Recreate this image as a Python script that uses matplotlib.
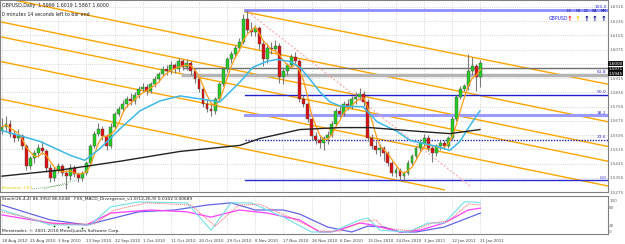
import numpy as np
import pandas as pd
import matplotlib
matplotlib.use('Agg')
import matplotlib.pyplot as plt

# daily GBPUSD bars, 18 Aug 2010 .. 21 Jan 2011
opens = [1.5620, 1.5642, 1.5659, 1.5603, 1.5576, 1.5587, 1.5531, 1.5420, 1.5464, 1.5492,
         1.5520, 1.5503, 1.5409, 1.5353, 1.5398, 1.5420, 1.5381, 1.5364, 1.5409, 1.5375,
         1.5353, 1.5381, 1.5437, 1.5531, 1.5603, 1.5631, 1.5587, 1.5531, 1.5642, 1.5715,
         1.5742, 1.5770, 1.5798, 1.5787, 1.5820, 1.5854, 1.5865, 1.5842, 1.5881, 1.5909,
         1.5937, 1.5965, 1.5954, 1.5987, 1.5965, 1.6009, 1.5976, 1.5998, 1.5954, 1.5909,
         1.5854, 1.5770, 1.5742, 1.5731, 1.5798, 1.5881, 1.5965, 1.6020, 1.6048, 1.6087,
         1.6120, 1.6250, 1.6187, 1.6176, 1.6198, 1.6104, 1.6020, 1.6087, 1.6076, 1.6098,
         1.5920, 1.5954, 1.5987, 1.6032, 1.6009, 1.5798, 1.5770, 1.5687, 1.5587, 1.5565,
         1.5548, 1.5576, 1.5598, 1.5659, 1.5731, 1.5715, 1.5770, 1.5754, 1.5798, 1.5809,
         1.5826, 1.5781, 1.5576, 1.5531, 1.5509, 1.5520, 1.5492, 1.5437, 1.5381, 1.5398,
         1.5364, 1.5381, 1.5437, 1.5476, 1.5520, 1.5548, 1.5576, 1.5520, 1.5492, 1.5531,
         1.5548, 1.5531, 1.5576, 1.5687, 1.5809, 1.5854, 1.5870, 1.5954, 1.5982, 1.5920]
highs = [1.5690, 1.5700, 1.5680, 1.5625, 1.5630, 1.5600, 1.5545, 1.5480, 1.5510, 1.5545,
         1.5560, 1.5515, 1.5430, 1.5415, 1.5440, 1.5435, 1.5400, 1.5430, 1.5425, 1.5390,
         1.5395, 1.5450, 1.5545, 1.5620, 1.5660, 1.5645, 1.5600, 1.5660, 1.5725, 1.5760,
         1.5790, 1.5815, 1.5830, 1.5835, 1.5870, 1.5890, 1.5880, 1.5895, 1.5925, 1.5950,
         1.5985, 1.5990, 1.6010, 1.6000, 1.6030, 1.6025, 1.6020, 1.6010, 1.5970, 1.5925,
         1.5870, 1.5800, 1.5770, 1.5810, 1.5895, 1.5980, 1.6035, 1.6065, 1.6100, 1.6140,
         1.6275, 1.6298, 1.6230, 1.6215, 1.6210, 1.6130, 1.6110, 1.6120, 1.6130, 1.6110,
         1.5975, 1.6000, 1.6050, 1.6060, 1.6025, 1.5820, 1.5790, 1.5700, 1.5610, 1.5590,
         1.5590, 1.5620, 1.5675, 1.5745, 1.5760, 1.5785, 1.5795, 1.5815, 1.5835, 1.5860,
         1.5845, 1.5795, 1.5600, 1.5560, 1.5545, 1.5535, 1.5505, 1.5450, 1.5415, 1.5410,
         1.5395, 1.5455, 1.5490, 1.5535, 1.5575, 1.5600, 1.5595, 1.5540, 1.5545, 1.5570,
         1.5565, 1.5590, 1.5700, 1.5820, 1.5870, 1.5880, 1.6048, 1.6032, 1.5995, 1.6019]
lows = [1.5600, 1.5620, 1.5585, 1.5555, 1.5560, 1.5515, 1.5400, 1.5405, 1.5440, 1.5470,
        1.5490, 1.5390, 1.5330, 1.5335, 1.5380, 1.5365, 1.5290, 1.5345, 1.5360, 1.5330,
        1.5335, 1.5370, 1.5425, 1.5520, 1.5590, 1.5570, 1.5510, 1.5520, 1.5630, 1.5700,
        1.5725, 1.5750, 1.5765, 1.5770, 1.5805, 1.5835, 1.5820, 1.5830, 1.5865, 1.5895,
        1.5925, 1.5935, 1.5940, 1.5945, 1.5950, 1.5960, 1.5960, 1.5935, 1.5890, 1.5835,
        1.5750, 1.5725, 1.5700, 1.5715, 1.5785, 1.5870, 1.5950, 1.6000, 1.6030, 1.6070,
        1.6105, 1.6170, 1.6150, 1.6150, 1.6080, 1.5985, 1.6000, 1.6050, 1.6060, 1.5890,
        1.5880, 1.5935, 1.5970, 1.5990, 1.5780, 1.5750, 1.5670, 1.5570, 1.5545, 1.5520,
        1.5510, 1.5545, 1.5585, 1.5645, 1.5695, 1.5700, 1.5735, 1.5740, 1.5770, 1.5790,
        1.5760, 1.5560, 1.5515, 1.5490, 1.5480, 1.5450, 1.5420, 1.5365, 1.5360, 1.5345,
        1.5340, 1.5370, 1.5425, 1.5460, 1.5505, 1.5530, 1.5505, 1.5445, 1.5475, 1.5510,
        1.5515, 1.5520, 1.5565, 1.5675, 1.5795, 1.5840, 1.5850, 1.5930, 1.5843, 1.5867]
closes = [1.5642, 1.5659, 1.5603, 1.5576, 1.5587, 1.5531, 1.5420, 1.5464, 1.5492, 1.5520,
          1.5503, 1.5409, 1.5353, 1.5398, 1.5420, 1.5381, 1.5364, 1.5409, 1.5375, 1.5353,
          1.5381, 1.5437, 1.5531, 1.5603, 1.5631, 1.5587, 1.5531, 1.5642, 1.5715, 1.5742,
          1.5770, 1.5798, 1.5787, 1.5820, 1.5854, 1.5865, 1.5842, 1.5881, 1.5909, 1.5937,
          1.5965, 1.5954, 1.5987, 1.5965, 1.6009, 1.5976, 1.5998, 1.5954, 1.5909, 1.5854,
          1.5770, 1.5742, 1.5731, 1.5798, 1.5881, 1.5965, 1.6020, 1.6048, 1.6087, 1.6120,
          1.6250, 1.6187, 1.6176, 1.6198, 1.6104, 1.6020, 1.6087, 1.6076, 1.6098, 1.5920,
          1.5954, 1.5987, 1.6032, 1.6009, 1.5798, 1.5770, 1.5687, 1.5587, 1.5565, 1.5548,
          1.5576, 1.5598, 1.5659, 1.5731, 1.5715, 1.5770, 1.5754, 1.5798, 1.5809, 1.5826,
          1.5781, 1.5576, 1.5531, 1.5509, 1.5520, 1.5492, 1.5437, 1.5381, 1.5398, 1.5364,
          1.5381, 1.5437, 1.5476, 1.5520, 1.5548, 1.5576, 1.5520, 1.5492, 1.5531, 1.5548,
          1.5531, 1.5576, 1.5687, 1.5809, 1.5854, 1.5870, 1.5954, 1.5982, 1.5920, 1.6000]

date_labels = ['18 Aug 2010', '25 Aug 2010', '3 Sep 2010', '13 Sep 2010', '22 Sep 2010',
               '1 Oct 2010', '11 Oct 2010', '20 Oct 2010', '29 Oct 2010', '8 Nov 2010',
               '17 Nov 2010', '26 Nov 2010', '6 Dec 2010', '15 Dec 2010', '24 Dec 2010',
               '3 Jan 2011', '12 Jan 2011', '21 Jan 2011']
label_step = 7

price_ticks = [1.5275, 1.5355, 1.5435, 1.5515, 1.5595, 1.5675, 1.5755,
               1.5835, 1.5915, 1.5995, 1.6075, 1.6155, 1.6235, 1.6315]

# moving averages (bar, price)
ma_blue_x = [0, 9.5, 17, 20.6, 24.4, 29.4, 34.3, 39.3, 44.3, 49.3, 54.2, 59.2, 62.4, 65.9,
             68.4, 71.6, 74.1, 76.6, 79.1, 81.6, 84.1, 89.8, 93.3, 98.3, 101.5, 108.2,
             111.4, 113.9, 116.4, 118.9]
ma_blue_y = [1.5620, 1.5559, 1.5481, 1.5453, 1.5520, 1.5631, 1.5731, 1.5787, 1.5815, 1.5798,
             1.5781, 1.5893, 1.5976, 1.6009, 1.6020, 1.6009, 1.5976, 1.5909, 1.5837, 1.5781,
             1.5759, 1.5754, 1.5670, 1.5615, 1.5565, 1.5531, 1.5509, 1.5559, 1.5648, 1.5731]
ma_black_x = [0, 14.4, 29.4, 44.3, 59.2, 64.2, 74.1, 84.1, 91.5, 104, 111.4, 118.9]
ma_black_y = [1.5364, 1.5398, 1.5448, 1.5503, 1.5537, 1.5576, 1.5626, 1.5637, 1.5637,
              1.5615, 1.5603, 1.5626]

# fibonacci retracement
fib_start = 60.4
fib_low = 1.5340
fib_high = 1.6298
fib_levels = [0.0, 23.6, 38.2, 50.0, 61.8, 100.0]

# horizontal grey levels
grey_start = 45
grey_levels = [1.5970, 1.5932]

# orange channel lines: (bar0, price0, bar1, price1)
channel_lines = [
    (60.4, 1.6287, 150.7, 1.5881),
    (-0.5, 1.6370, 150.7, 1.5670),
    (-0.5, 1.6232, 150.7, 1.5531),
    (-0.5, 1.6148, 150.7, 1.5448),
    (-0.5, 1.6009, 150.7, 1.5309),
    (-0.5, 1.5798, 110.0, 1.5287),
]
trend_line = (61.2, 1.6287, 116.4, 1.5309)

# oscillator window
stoch_x = [0, 12, 22, 27, 34, 46, 52, 57, 62, 70, 77, 82, 89, 91, 94, 101, 106, 110, 115, 117, 119]
stoch_main = [71, 23, 23, 81, 97, 94, 6, 94, 94, 48, 0, 0, 39, 45, 6, 0, 29, 29, 97, 97, 94]
signal_x = [0, 13, 23, 28, 36, 47, 53, 59, 64, 72, 79, 84, 90, 93, 95, 102, 107, 111, 116, 119]
stoch_signal = [65, 26, 26, 71, 94, 87, 19, 87, 90, 45, 3, 3, 35, 39, 13, 3, 29, 35, 90, 87]
macd_x = [0, 12, 21, 27, 37, 46, 52, 59, 66, 74, 79, 82, 89, 92, 99, 104, 110, 116, 119]
macd_main = [55, 29, 23, 61, 71, 65, 48, 71, 61, 39, 0, 0, 29, 23, 0, 6, 29, 71, 77]
macd_sig_x = [0, 12, 21, 34, 43, 51, 57, 63, 70, 74, 81, 87, 91, 95, 99, 103, 110, 119]
macd_signal = [87, 39, 23, 65, 71, 87, 94, 71, 71, 58, 16, 0, 19, 16, 0, 0, 16, 61]

x0, x1 = -0.4975, 150.75
y0, y1 = 1.52865, 1.6354

fig = plt.figure(figsize=(6.25, 2.44), dpi=100)
ax = fig.add_axes([0, 0.2131, 0.9728, 0.7869])
ax2 = fig.add_axes([0, 0.041, 0.9728, 0.1557])

grid_x = np.arange(0, len(closes), label_step)
for a in (ax, ax2):
    a.set_xlim(x0, x1)
    a.set_xticks(grid_x)
    a.tick_params(length=0, labelbottom=False, labelleft=False)
    a.grid(True, linestyle=(0, (1, 2)), color='#b8b8b8', linewidth=0.5)
    for s in a.spines.values():
        s.set_color('#808080')
        s.set_linewidth(0.8)
    a.set_axisbelow(True)

ax.set_ylim(y0, y1)
ax.set_yticks(price_ticks)
ax.yaxis.tick_right()
ax.tick_params(axis='y', labelright=True, labelsize=3.0, pad=0.8, colors='#606060')
ax.set_yticklabels(['%.4f' % p for p in price_ticks])

# channel lines
for b0, p0, b1, p1 in channel_lines:
    ax.plot([b0, b1], [p0, p1], color='#ffa500', lw=1.0, zorder=2)

# fibonacci levels
fib_styles = {0.0: ('#2a2ad0', 1.0, '-'), 23.6: ('#2020b0', 1.0, (0, (1, 1))),
              38.2: ('#9a9aff', 2.2, '-'), 50.0: ('#2020c8', 1.0, '-'),
              61.8: ('#3a3ae0', 1.0, '-'), 100.0: ('#8c8cff', 2.0, '-')}
for lev in fib_levels:
    p = fib_low + (fib_high - fib_low) * lev / 100
    c, lw, ls = fib_styles[lev]
    ax.plot([fib_start, x1], [p, p], color=c, lw=lw, ls=ls, zorder=2)
    ax.text(x1 - 0.3, p + 0.0004, '%.1f' % lev, fontsize=3.2, color='#3030d0',
            ha='right', va='bottom')

ax.plot([grey_start, x1], [grey_levels[0]] * 2, color='#707070', lw=1.0, zorder=2)
ax.plot([grey_start, x1], [grey_levels[1]] * 2, color='#b4b4b4', lw=2.5, zorder=2)

tb0, tp0, tb1, tp1 = trend_line
ax.plot([tb0, tb1], [tp0, tp1], color='#ff9a9a', lw=0.7, ls=(0, (2, 2)), zorder=2)

# green dotted support lines
ax.plot([10.5, 20.2], [1.5292, 1.5353], color='#50a050', lw=0.6, ls=(0, (1, 1.5)))
ax.plot([7.5, 16.4], [1.5292, 1.5318], color='#50a050', lw=0.6, ls=(0, (1, 1.5)))

# candles
idx = np.arange(len(closes))
o = np.array(opens); h = np.array(highs); l = np.array(lows); c = np.array(closes)
ax.vlines(idx, l, h, color='#7a7a7a', lw=0.8, zorder=3)
up = c >= o
body = np.where(np.abs(c - o) < 0.0003, 0.0003, c - o)
ax.bar(idx[up], body[up], bottom=o[up], width=0.72, color='#22cc22',
       edgecolor='#4a4a4a', linewidth=0.3, zorder=4)
ax.bar(idx[~up], body[~up], bottom=o[~up], width=0.72, color='#dd1111',
       edgecolor='#4a4a4a', linewidth=0.3, zorder=4)

# moving averages
ma_fast = pd.Series(closes).rolling(4, min_periods=1).mean()
ax.plot(idx, ma_fast, color='#ff9c1a', lw=0.9, zorder=5)
ax.plot(ma_blue_x, ma_blue_y, color='#3cb8e8', lw=1.1, zorder=5)
ax.plot(ma_black_x, ma_black_y, color='#222222', lw=1.0, zorder=5)

# header texts
ax.text(0.004, 0.985, 'GBPUSD,Daily  1.5999 1.6019 1.5867 1.6000', transform=ax.transAxes,
        fontsize=3.4, va='top', color='#202020')
ax.text(0.004, 0.94, '0 minutes 14 seconds left to bar end', transform=ax.transAxes,
        fontsize=3.4, va='top', color='#202020')
ax.text(0.004, 0.012, 'Breakout: 1.63', transform=ax.transAxes, fontsize=3.0,
        color='#e0d000', va='bottom')

# timeframe arrows
ax.text(136.0, 1.6250, 'GBPUSD', fontsize=3.3, color='#2020ff', va='center')
tf_names = ['H1', 'H4', 'D1', 'W1', 'MN']
tf_colors = ['#ff2020', '#ffcc00', '#000080', '#000080', '#000080']
for k, (n, col) in enumerate(zip(tf_names, tf_colors)):
    bx = 141.2 + k * 2.1
    ax.text(bx, 1.6292, n, fontsize=2.6, color='#000080', ha='center', va='center')
    ax.text(bx, 1.6250, '\u2191', fontsize=5, color=col, ha='center', va='center',
            fontweight='bold')

# price boxes on the axis
for p, txt in [(1.6000, '1.6000'), (1.5970, '1.5971'), (1.5945, '1.5945')]:
    ax.text(1.001, (p - y0) / (y1 - y0), txt, transform=ax.transAxes,
            fontsize=3.0, color='white', va='center', ha='left',
            bbox=dict(boxstyle='square,pad=0.12', fc='#101010', ec='none'), clip_on=False)

# oscillator
ax2.set_ylim(-6.45, 116.1)
ax2.set_yticks([0, 20, 80, 100])
ax2.yaxis.tick_right()
ax2.tick_params(axis='y', labelright=True, labelsize=3.0, pad=0.8, colors='#606060')
ax2.yaxis.grid(False)
ax2.plot(macd_sig_x, macd_signal, color='#6464e6', lw=0.9)
ax2.plot(macd_x, macd_main, color='#ff40ff', lw=0.9)
ax2.plot(stoch_x, stoch_main, color='#70e0e8', lw=0.8)
ax2.plot(signal_x, stoch_signal, color='#ff6060', lw=0.7, ls=(0, (1, 1)))
ax2.scatter([13, 16.4, 20], [20, 16, 14], marker='+', s=4, color='#106010', lw=0.6)
ax2.text(0.004, 0.97, 'Stoch(26,4,4) 86.3950 86.6048   FX5_MACD_Divergence_v1.0(12,26,9) 0.0102 0.00689',
         transform=ax2.transAxes, fontsize=3.2, va='top', color='#202020')
ax2.text(0.004, 0.03, 'Metatrader, \u00a9 2001-2010 MetaQuotes Software Corp.',
         transform=ax2.transAxes, fontsize=3.2, va='bottom', color='#202020')

# date labels
for k, lab in enumerate(date_labels):
    ax2.text(grid_x[k], -0.12, lab, transform=ax2.get_xaxis_transform(), fontsize=2.9,
             va='top', ha='left', color='#404040')

fig.savefig('out.png', dpi=100, facecolor='white')
